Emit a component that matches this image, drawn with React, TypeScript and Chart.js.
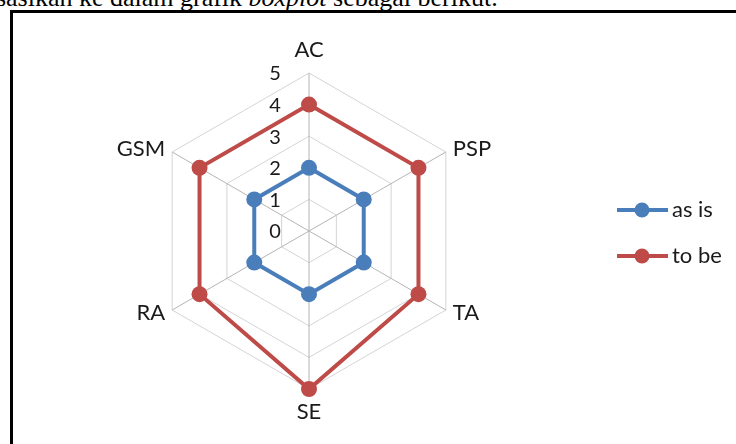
import React, { useEffect, useRef } from "react";
import { Chart, registerables } from "chart.js";

Chart.register(...registerables);

const CATEGORIES = ["AC", "PSP", "TA", "SE", "RA", "GSM"];
const AS_IS = [2, 2, 2, 2, 2, 2];
const TO_BE = [4, 4, 4, 5, 4, 4];
const TICKS = [0, 1, 2, 3, 4, 5];
const SERIES_NAMES = ["as is", "to be"];
const COLORS = ["#4A7EBB", "#BE4B48"];

const LABEL_FONT = "22px Lato";
const TICK_FONT = "20px Lato";
const TEXT_COLOR = "#1a1a1a";

const labelsPlugin = {
  id: "excelLabels",
  afterDraw(chart: any) {
    const ctx = chart.ctx as CanvasRenderingContext2D;
    const r = chart.scales.r;
    ctx.save();
    ctx.fillStyle = TEXT_COLOR;
    // tick labels
    ctx.font = TICK_FONT;
    ctx.textAlign = "center";
    ctx.textBaseline = "middle";
    TICKS.forEach((t) => {
      const d = r.getDistanceFromCenterForValue(t);
      ctx.fillText(String(t), r.xCenter - 34, r.yCenter - d + 1);
    });
    // point labels
    ctx.font = LABEL_FONT;
    CATEGORIES.forEach((c, i) => {
      const p = r.getPointPositionForValue(i, r.max);
      const ux = (p.x - r.xCenter) / r.drawingArea;
      const uy = (p.y - r.yCenter) / r.drawingArea;
      if (Math.abs(ux) < 0.1) {
        ctx.textAlign = "center";
        ctx.fillText(c, p.x, p.y + Math.sign(uy) * 23);
      } else {
        ctx.textAlign = ux > 0 ? "left" : "right";
        ctx.fillText(c, p.x + Math.sign(ux) * 7, p.y + uy * 6);
      }
    });
    // legend
    const ys = [210, 256];
    SERIES_NAMES.forEach((name, k) => {
      const y = ys[k];
      ctx.strokeStyle = COLORS[k];
      ctx.lineWidth = 4;
      ctx.beginPath();
      ctx.moveTo(617, y);
      ctx.lineTo(668, y);
      ctx.stroke();
      ctx.fillStyle = COLORS[k];
      ctx.beginPath();
      ctx.arc(642, y, 7.5, 0, Math.PI * 2);
      ctx.fill();
      ctx.fillStyle = TEXT_COLOR;
      ctx.textAlign = "left";
      ctx.textBaseline = "middle";
      ctx.fillText(name, 672, y);
    });
    ctx.restore();
  },
};

export default function App() {
  const ref = useRef<HTMLCanvasElement>(null);
  useEffect(() => {
    if (!ref.current) return;
    const chart = new Chart(ref.current, {
      type: "radar",
      data: {
        labels: CATEGORIES,
        datasets: [
          {
            label: SERIES_NAMES[0],
            data: AS_IS,
            borderColor: COLORS[0],
            backgroundColor: COLORS[0],
            pointBackgroundColor: COLORS[0],
            pointBorderWidth: 0,
            pointRadius: 8,
            borderWidth: 4,
            fill: false,
            tension: 0,
          },
          {
            label: SERIES_NAMES[1],
            data: TO_BE,
            borderColor: COLORS[1],
            backgroundColor: COLORS[1],
            pointBackgroundColor: COLORS[1],
            pointBorderWidth: 0,
            pointRadius: 8,
            borderWidth: 4,
            fill: false,
            tension: 0,
          },
        ],
      },
      options: {
        responsive: false,
        animation: false,
        layout: { padding: { left: 151, right: 269, top: 73, bottom: 55 } },
        plugins: { legend: { display: false }, tooltip: { enabled: false } },
        scales: {
          r: {
            min: 0,
            max: 5,
            ticks: { display: false, stepSize: 1 },
            pointLabels: { display: false },
            grid: { color: "#d4d4d4", lineWidth: 1 },
            angleLines: { color: "#b4b4b4", lineWidth: 1 },
          },
        },
      },
      plugins: [labelsPlugin],
    });
    return () => chart.destroy();
  }, []);

  return (
    <div
      style={{
        position: "fixed",
        left: 0,
        top: 0,
        width: 736,
        height: 444,
        overflow: "hidden",
        background: "#fff",
      }}
    >
      <div
        style={{
          position: "absolute",
          left: 6,
          top: -15,
          whiteSpace: "nowrap",
          fontFamily: "'Liberation Serif', 'Times New Roman', serif",
          fontSize: 26,
          lineHeight: "26px",
          color: "#000",
        }}
      >
        <span style={{ position: "absolute", right: "100%", top: 0 }}>divisualis</span>
        asikan ke dalam grafik <i>boxplot</i> sebagai berikut.
      </div>
      <div
        style={{
          position: "absolute",
          left: 10,
          top: 10,
          width: 800,
          height: 500,
          border: "3px solid #000",
          boxSizing: "border-box",
        }}
      />
      <canvas
        ref={ref}
        width={736}
        height={444}
        style={{ position: "absolute", left: 0, top: 0, width: 736, height: 444 }}
      />
    </div>
  );
}
